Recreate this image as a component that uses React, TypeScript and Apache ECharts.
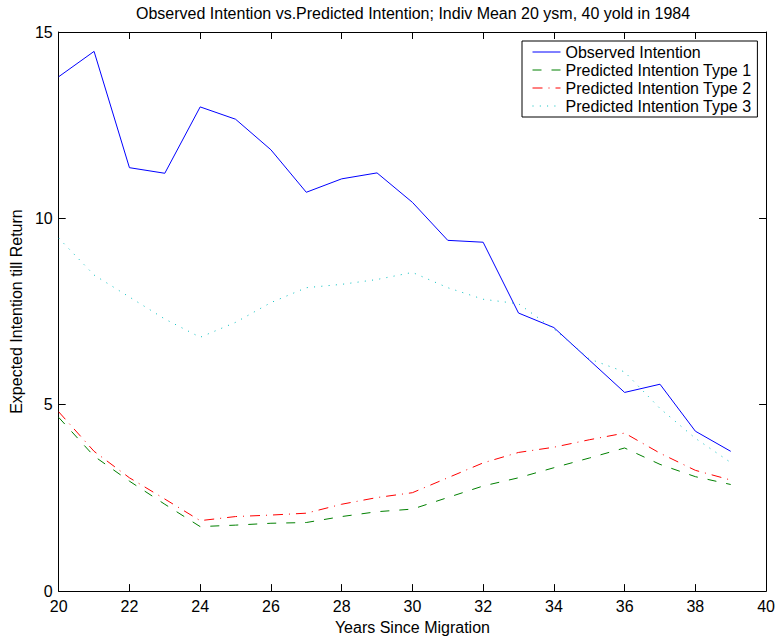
import React, { useEffect, useRef } from "react";
import * as echarts from "echarts";

const years = [20, 21, 22, 23, 24, 25, 26, 27, 28, 29, 30, 31, 32, 33, 34, 35, 36, 37, 38, 39];
const observed = [13.8, 14.48, 11.36, 11.21, 12.99, 12.66, 11.84, 10.7, 11.06, 11.22, 10.43, 9.41, 9.36, 7.46, 7.07, 6.2, 5.33, 5.55, 4.29, 3.75];
const type1 = [4.66, 3.62, 2.95, 2.33, 1.73, 1.77, 1.82, 1.84, 2.0, 2.13, 2.2, 2.51, 2.82, 3.04, 3.31, 3.57, 3.84, 3.4, 3.07, 2.86];
const type2 = [4.81, 3.75, 3.04, 2.47, 1.89, 2.0, 2.04, 2.09, 2.33, 2.51, 2.64, 3.04, 3.44, 3.72, 3.86, 4.06, 4.24, 3.7, 3.24, 2.98];
const type3 = [9.47, 8.48, 7.89, 7.3, 6.81, 7.21, 7.74, 8.14, 8.23, 8.36, 8.55, 8.14, 7.83, 7.71, 7.03, 6.23, 5.88, 4.9, 4.1, 3.45];

const seriesNames = [
  "Observed Intention",
  "Predicted Intention Type 1",
  "Predicted Intention Type 2",
  "Predicted Intention Type 3",
];
const titleText = "Observed Intention vs.Predicted Intention; Indiv Mean 20 ysm, 40 yold in 1984";
const xName = "Years Since Migration";
const yName = "Expected Intention till Return";

const FONT = "'Liberation Sans', Arial, Helvetica, sans-serif";

export default function App() {
  const ref = useRef<HTMLDivElement>(null);
  useEffect(() => {
    if (!ref.current) return;
    const chart = echarts.init(ref.current, undefined, { renderer: "svg" });
    const axisCommon = {
      axisLine: { show: true, onZero: false, lineStyle: { color: "#000", width: 1 } },
      axisTick: { show: true, inside: true, length: 7, lineStyle: { color: "#000", width: 1 } },
      splitLine: { show: false },
    };
    const mk = (vals: number[]) => years.map((y, i) => [y, vals[i]]);
    const option = {
      animation: false,
      backgroundColor: "#fff",
      title: {
        text: titleText,
        left: 136,
        top: 5,
        padding: 0,
        textStyle: { fontFamily: FONT, fontSize: 16, fontWeight: "normal", color: "#000" },
      },
      grid: { left: 54, right: 10, top: 32, bottom: 44 },
      legend: {
        data: seriesNames,
        orient: "vertical",
        left: 522,
        top: 41,
        padding: [2, 6, 2, 10],
        itemWidth: 28,
        itemHeight: 18,
        itemGap: 0,
        borderColor: "#000",
        borderWidth: 1,
        backgroundColor: "#fff",
        itemStyle: { opacity: 0, borderWidth: 0 },
        lineStyle: { width: 1 },
        textStyle: { fontFamily: FONT, fontSize: 16, color: "#000", lineHeight: 18 },
      },
      xAxis: [
        {
          type: "value",
          position: "bottom",
          min: 20,
          max: 40,
          interval: 2,
          name: xName,
          nameLocation: "middle",
          nameGap: 24,
          nameTextStyle: { fontFamily: FONT, fontSize: 16, color: "#000" },
          axisLabel: { fontFamily: FONT, fontSize: 16, color: "#000", margin: 7 },
          ...axisCommon,
        },
        {
          type: "value",
          position: "top",
          min: 20,
          max: 40,
          interval: 2,
          axisLabel: { show: false },
          ...axisCommon,
        },
      ],
      yAxis: [
        {
          type: "value",
          position: "left",
          min: 0,
          max: 15,
          interval: 5,
          name: yName,
          nameLocation: "middle",
          nameGap: 30,
          nameTextStyle: { fontFamily: FONT, fontSize: 16, color: "#000" },
          axisLabel: { fontFamily: FONT, fontSize: 16, color: "#000", margin: 6 },
          ...axisCommon,
        },
        {
          type: "value",
          position: "right",
          min: 0,
          max: 15,
          interval: 5,
          axisLabel: { show: false },
          ...axisCommon,
        },
      ],
      series: [
        {
          name: seriesNames[0],
          type: "line",
          symbol: "none",
          data: mk(observed),
          itemStyle: { color: "#0000ff" },
          lineStyle: { color: "#0000ff", width: 1, type: "solid" },
        },
        {
          name: seriesNames[1],
          type: "line",
          symbol: "none",
          data: mk(type1),
          itemStyle: { color: "#008000" },
          lineStyle: { color: "#008000", width: 1, type: [9, 10] },
        },
        {
          name: seriesNames[2],
          type: "line",
          symbol: "none",
          data: mk(type2),
          itemStyle: { color: "#ff0000" },
          lineStyle: { color: "#ff0000", width: 1, type: [10, 6, 1, 6] },
        },
        {
          name: seriesNames[3],
          type: "line",
          symbol: "none",
          data: mk(type3),
          itemStyle: { color: "#00bfbf" },
          lineStyle: { color: "#00bfbf", width: 1, type: [1, 6.3] },
        },
      ],
    };
    chart.setOption(option as any);
    return () => chart.dispose();
  }, []);
  return (
    <div
      ref={ref}
      style={{ position: "absolute", left: 0, top: 0, width: 778, height: 640 }}
    />
  );
}
